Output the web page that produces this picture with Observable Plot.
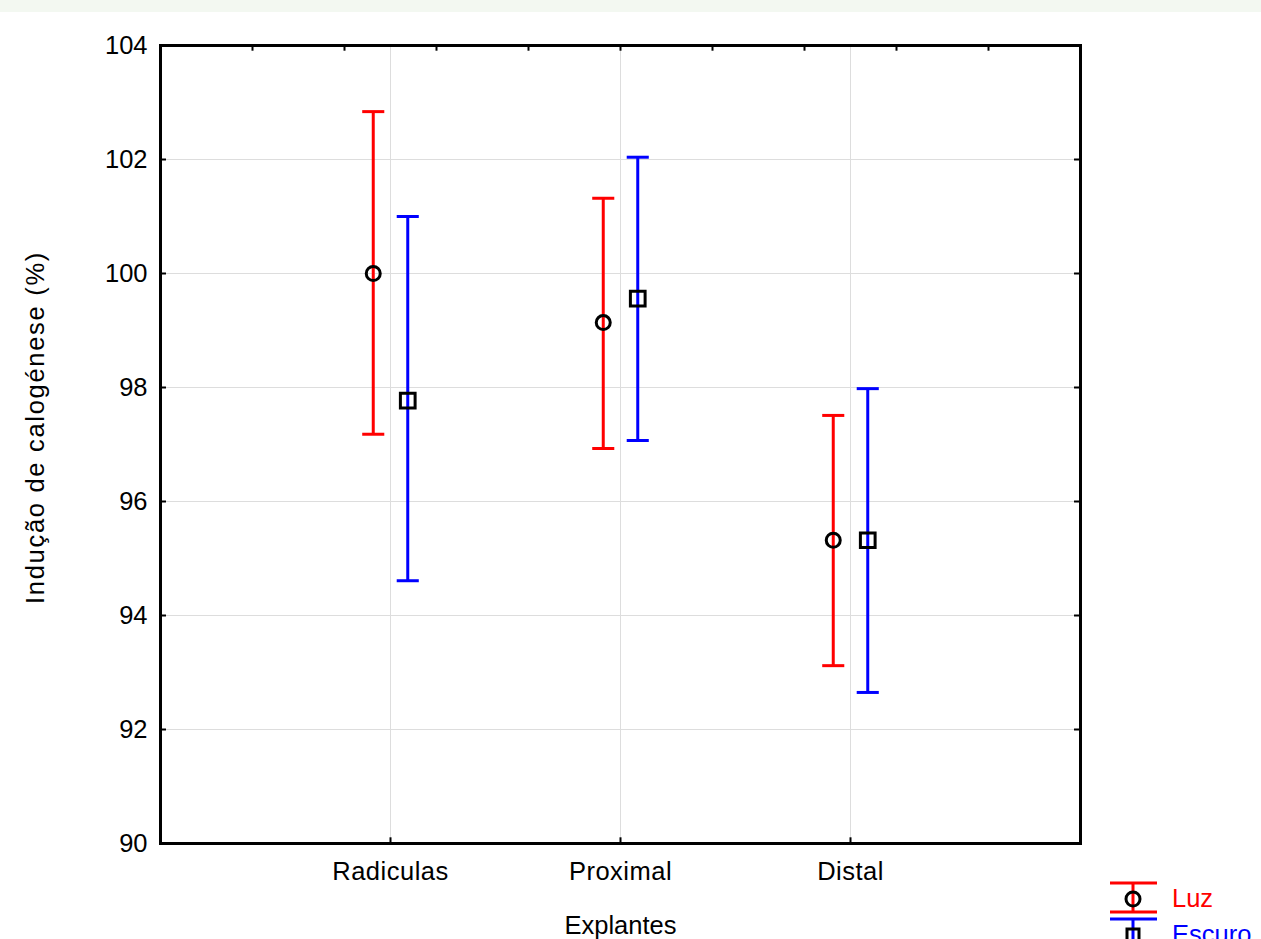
<!DOCTYPE html>
<html>
<head>
<meta charset="utf-8">
<script src="https://cdn.jsdelivr.net/npm/d3@7"></script>
<script src="https://cdn.jsdelivr.net/npm/@observablehq/plot@0.6"></script>
<style>
  html, body { margin: 0; padding: 0; background: #ffffff; }
  #wrap { position: relative; width: 1261px; height: 939px; overflow: hidden; background: #ffffff; }
  #band { height: 12px; background: #f3f8f1; }
  #legend { position: absolute; left: 1100px; top: 870px; }
</style>
</head>
<body>
<div id="wrap">
  <div id="band"></div>
  <div id="chart"></div>
  <svg id="legend" width="161" height="69"></svg>
</div>
<script>
// ---- data ----
const categories = ["Radiculas", "Proximal", "Distal"];
const groups = ["Luz", "Escuro"];
const groupColors = ["#ff0000", "#0000ff"];

const luzMean = [100.0, 99.14, 95.32];
const luzLow  = [97.18, 96.93, 93.12];
const luzHigh = [102.84, 101.32, 97.51];

const escuroMean = [97.77, 99.56, 95.32];
const escuroLow  = [94.61, 97.07, 92.65];
const escuroHigh = [101.0, 102.04, 97.98];

const yTicks = [90, 92, 94, 96, 98, 100, 102, 104];
const yGrid = [92, 94, 96, 98, 100, 102];
const xTicks = [1, 2, 3];
const topTicks = [0.4, 0.8, 1.2, 1.6, 2.0, 2.4, 2.8, 3.2, 3.6];

const xTitle = "Explantes";
const yTitle = "Indução de calogénese (%)";

// ---- table ----
const offsets = [-0.075, 0.075];
const series = [
  {mean: luzMean, low: luzLow, high: luzHigh},
  {mean: escuroMean, low: escuroLow, high: escuroHigh}
];
const rows = [];
groups.forEach((g, gi) => {
  categories.forEach((c, ci) => {
    rows.push({
      group: g, gi, cat: c,
      x: ci + 1 + offsets[gi],
      mean: series[gi].mean[ci],
      low: series[gi].low[ci],
      high: series[gi].high[ci]
    });
  });
});
const caps = rows.flatMap(d => [{...d, y: d.low}, {...d, y: d.high}]);
const capHalf = 0.048;
const FS = 25.5;

const chart = Plot.plot({
  width: 1261,
  height: 927,
  marginLeft: 160,
  marginRight: 181,
  marginTop: 33,
  marginBottom: 96,
  style: {fontFamily: "'Liberation Sans', Arial, sans-serif", fontSize: FS + "px", background: "#ffffff", color: "#000"},
  x: {domain: [0, 4], axis: null},
  y: {domain: [90, 104], axis: null},
  marks: [
    Plot.ruleY(yGrid, {y: d => d, stroke: "#dddddd", strokeWidth: 1}),
    Plot.ruleX(xTicks, {x: d => d, stroke: "#dddddd", strokeWidth: 1}),
    Plot.frame({stroke: "#000", strokeWidth: 3}),
    // inward ticks
    Plot.ruleX(topTicks, {x: d => d, y1: 104, y2: 104 - 0.1, stroke: "#000", strokeWidth: 2}),
    Plot.ruleX(xTicks, {x: d => d, y1: 90, y2: 90 + 0.1, stroke: "#000", strokeWidth: 2}),
    Plot.ruleY(yGrid, {y: d => d, x1: 4 - 0.026, x2: 4, stroke: "#000", strokeWidth: 2}),
    Plot.ruleY(yGrid, {y: d => d, x1: 0, x2: 0.026, stroke: "#000", strokeWidth: 2}),
    // axes labels
    Plot.axisY(yTicks, {anchor: "left", tickSize: 0, tickPadding: 13, label: null, fontSize: FS,
      tickFormat: d => String(d)}),
    Plot.axisX(xTicks, {anchor: "bottom", tickSize: 0, tickPadding: 18, label: null, fontSize: FS,
      tickFormat: d => categories[d - 1]}),
    Plot.text([xTitle], {frameAnchor: "bottom", dy: 82, fontSize: FS, lineAnchor: "middle", textAnchor: "middle"}),
    Plot.text([yTitle], {frameAnchor: "left", dx: -125, dy: -17, rotate: -90, fontSize: FS,
      lineAnchor: "middle", textAnchor: "middle"}),
    // error bars
    Plot.ruleX(rows, {x: "x", y1: "low", y2: "high", stroke: d => groupColors[d.gi], strokeWidth: 3}),
    Plot.link(caps, {x1: d => d.x - capHalf, x2: d => d.x + capHalf, y1: "y", y2: "y",
      stroke: d => groupColors[d.gi], strokeWidth: 3}),
    // means
    Plot.dot(rows.filter(d => d.gi === 0), {x: "x", y: "mean", symbol: "circle", r: 7, stroke: "#000", strokeWidth: 3, fill: "none"}),
    Plot.dot(rows.filter(d => d.gi === 1), {x: "x", y: "mean", symbol: "square", r: 8.3, stroke: "#000", strokeWidth: 3, fill: "none"})
  ]
});
document.getElementById("chart").appendChild(chart);

// widen letter spacing of titles/labels to match the reference rendering
d3.select(chart).selectAll("text").each(function() {
  const t = this.textContent;
  if (t === yTitle) this.style.letterSpacing = "1.7px";
  else if (categories.includes(t)) this.style.letterSpacing = "0.5px";
});

// ---- legend ----
const lg = d3.select("#legend");
const lx = 33; // symbol centre within legend svg
groups.forEach((g, gi) => {
  const top = gi === 0 ? 13 : 49;
  const gEl = lg.append("g");
  gEl.append("line").attr("x1", lx - 23).attr("x2", lx + 24).attr("y1", top).attr("y2", top)
    .attr("stroke", groupColors[gi]).attr("stroke-width", 3);
  gEl.append("line").attr("x1", lx).attr("x2", lx).attr("y1", top).attr("y2", top + 29)
    .attr("stroke", groupColors[gi]).attr("stroke-width", 3);
  gEl.append("line").attr("x1", lx - 23).attr("x2", lx + 24).attr("y1", top + 29).attr("y2", top + 29)
    .attr("stroke", groupColors[gi]).attr("stroke-width", 3);
  gEl.append("path").attr("d", d3.symbol(gi === 0 ? d3.symbolCircle : d3.symbolSquare, gi === 0 ? Math.PI * 49 : 144)())
    .attr("transform", `translate(${lx},${top + 16})`)
    .attr("fill", "none").attr("stroke", "#000").attr("stroke-width", 3);
  gEl.append("text").attr("x", 72).attr("y", top + 24).text(g)
    .attr("fill", groupColors[gi])
    .attr("font-family", "'Liberation Sans', Arial, sans-serif").attr("font-size", FS);
});
</script>
</body>
</html>
